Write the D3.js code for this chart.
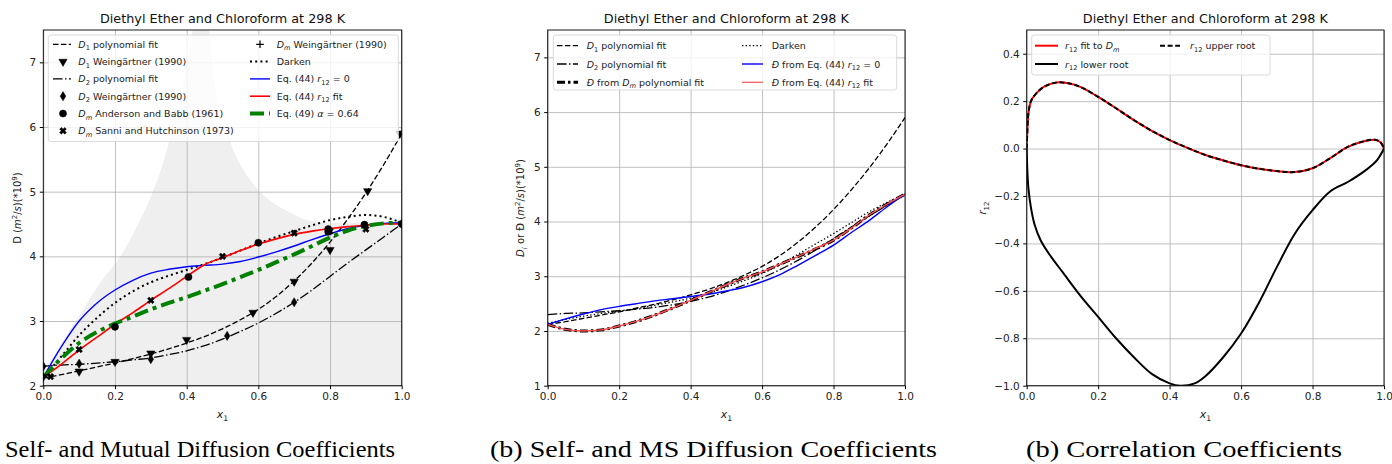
<!DOCTYPE html>
<html>
<head>
<meta charset="utf-8">
<script src="https://cdn.jsdelivr.net/npm/d3@7"></script>
<style>
  body { margin: 0; background: #fff; }
  svg { display: block; font-family: "DejaVu Sans", sans-serif; }
</style>
</head>
<body>
<div class="canvas"></div>
<script>
const svgWidth = 1392;
const svgHeight = 464;

// x grid shared by the fitted curves
const xGrid = [0, 0.05, 0.1, 0.15, 0.2, 0.25, 0.3, 0.35, 0.4, 0.45, 0.5, 0.55, 0.6, 0.65, 0.7, 0.75, 0.8, 0.85, 0.9, 0.95, 1.0];

// panel (a) curves
const d1Fit   = [2.12, 2.17, 2.23, 2.29, 2.35, 2.42, 2.49, 2.57, 2.66, 2.76, 2.88, 3.02, 3.18, 3.38, 3.62, 3.90, 4.22, 4.58, 4.98, 5.42, 5.90];
const d2Fit   = [2.30, 2.32, 2.33, 2.35, 2.37, 2.40, 2.43, 2.48, 2.54, 2.62, 2.72, 2.84, 2.97, 3.12, 3.29, 3.48, 3.69, 3.90, 4.10, 4.30, 4.50];
const darkenA = [2.13, 2.45, 2.78, 3.05, 3.28, 3.46, 3.60, 3.70, 3.79, 3.88, 3.98, 4.09, 4.20, 4.30, 4.39, 4.48, 4.56, 4.61, 4.64, 4.61, 4.52];
const eq44Zero = [2.13, 2.60, 3.00, 3.28, 3.48, 3.63, 3.74, 3.80, 3.84, 3.86, 3.88, 3.92, 3.99, 4.07, 4.16, 4.26, 4.35, 4.43, 4.48, 4.51, 4.52];
const eq44Fit = [2.13, 2.33, 2.55, 2.75, 2.95, 3.13, 3.32, 3.50, 3.69, 3.87, 3.98, 4.09, 4.19, 4.27, 4.34, 4.39, 4.43, 4.46, 4.48, 4.50, 4.50];
const eq49    = [2.13, 2.42, 2.66, 2.83, 2.96, 3.07, 3.18, 3.28, 3.37, 3.47, 3.57, 3.68, 3.79, 3.91, 4.03, 4.16, 4.29, 4.40, 4.47, 4.51, 4.52];

// panel (a) shaded region boundary
const shadeX = [0, 0.05, 0.11, 0.16, 0.214, 0.26, 0.30, 0.34, 0.37, 0.40, 0.42, 0.44, 0.46, 0.48, 0.52, 0.577, 0.62, 0.68, 0.744, 0.8, 0.9, 1.0];
const shadeY = [2.2, 2.65, 3.17, 3.6, 3.99, 4.45, 4.92, 5.55, 6.2, 6.95, 7.6, 8.2, 7.6, 6.6, 5.8, 5.18, 4.92, 4.7, 4.55, 4.52, 4.52, 4.5];

// panel (a) measurements
const d1WeinX = [0.0, 0.1, 0.2, 0.3, 0.4, 0.585, 0.7, 0.8, 0.905, 0.995];
const d1WeinY = [2.14, 2.22, 2.37, 2.50, 2.71, 3.13, 3.61, 4.10, 5.01, 5.90];
const d2WeinX = [0.0, 0.1, 0.3, 0.513, 0.7, 1.0];
const d2WeinY = [2.30, 2.34, 2.41, 2.77, 3.29, 4.50];
const andersonX = [0.2, 0.405, 0.6, 0.795, 0.795, 0.896, 1.0];
const andersonY = [2.91, 3.68, 4.21, 4.42, 4.38, 4.49, 4.50];
const sanniX = [0.02, 0.1, 0.3, 0.5, 0.7, 0.8, 0.9];
const sanniY = [2.14, 2.56, 3.32, 4.00, 4.36, 4.39, 4.42];
const dmWeinX = [0.0, 1.0];
const dmWeinY = [2.14, 4.52];

// panel (b) curves
const darkenB = [2.14, 2.21, 2.27, 2.32, 2.36, 2.41, 2.47, 2.53, 2.60, 2.69, 2.80, 2.92, 3.05, 3.21, 3.40, 3.59, 3.78, 3.98, 4.18, 4.35, 4.50];
const msFromDm = [2.12, 2.03, 2.00, 2.02, 2.09, 2.18, 2.29, 2.42, 2.56, 2.70, 2.84, 2.97, 3.08, 3.22, 3.36, 3.50, 3.66, 3.88, 4.12, 4.32, 4.50];
const msZero  = [2.12, 2.22, 2.31, 2.39, 2.45, 2.50, 2.55, 2.59, 2.63, 2.67, 2.73, 2.80, 2.90, 3.03, 3.20, 3.38, 3.57, 3.80, 4.02, 4.27, 4.50];
const msFit   = [2.12, 2.03, 2.00, 2.02, 2.09, 2.18, 2.29, 2.42, 2.56, 2.70, 2.84, 2.97, 3.08, 3.22, 3.36, 3.51, 3.66, 3.88, 4.12, 4.32, 4.50];

// panel (c) roots
const upperX = [0, 0.002, 0.005, 0.012, 0.028, 0.05, 0.084, 0.12, 0.15, 0.2, 0.25, 0.3, 0.35, 0.4, 0.45, 0.5, 0.55, 0.6, 0.65, 0.7, 0.75, 0.8, 0.85, 0.9, 0.95, 0.975, 0.99, 1.0];
const upperY = [0, 0.08, 0.15, 0.2, 0.235, 0.262, 0.279, 0.274, 0.260, 0.218, 0.17, 0.12, 0.075, 0.036, 0.003, -0.027, -0.05, -0.07, -0.085, -0.095, -0.099, -0.083, -0.04, 0.008, 0.033, 0.037, 0.027, 0.0];
const lowerX = [0, 0.002, 0.005, 0.012, 0.022, 0.04, 0.07, 0.1, 0.15, 0.2, 0.25, 0.3, 0.35, 0.4, 0.43, 0.47, 0.5, 0.55, 0.6, 0.65, 0.7, 0.75, 0.8, 0.85, 0.9, 0.95, 0.98, 1.0];
const lowerY = [0, -0.1, -0.17, -0.25, -0.32, -0.39, -0.46, -0.52, -0.62, -0.71, -0.80, -0.88, -0.95, -0.99, -1.0, -0.99, -0.96, -0.88, -0.78, -0.65, -0.50, -0.36, -0.26, -0.18, -0.14, -0.09, -0.05, 0.0];

const xTicks = [0, 0.2, 0.4, 0.6, 0.8, 1.0];
const titleText = 'Diethyl Ether and Chloroform at 298 K';

const zip = (xs, ys) => xs.map((x, i) => [x, ys[i]]);

const svg = d3.select('.canvas')
    .append('svg')
        .attr('width', svgWidth)
        .attr('height', svgHeight);

// writes text made of plain / italic / sub / sup pieces
const rich = (textSel, parts, size) => {
    let shift = 0;
    parts.forEach(p => {
        const t = textSel.append('tspan').text(p.t);
        let want = 0;
        if (p.sub) want = size * 0.28;
        if (p.sup) want = -size * 0.38;
        if (want !== shift) { t.attr('dy', want - shift); shift = want; }
        if (p.sub || p.sup) t.attr('font-size', size * 0.7);
        if (p.i) t.attr('font-style', 'italic');
    });
};

const makePanel = (id, left, right, yDomain, yTicks, yFmt) => {
    const top = 30, bottom = 385.7;
    const x = d3.scaleLinear().domain([0, 1]).range([left, right]);
    const y = d3.scaleLinear().domain(yDomain).range([bottom, top]);
    const g = svg.append('g');

    g.append('clipPath').attr('id', id)
        .append('rect').attr('x', left).attr('y', top).attr('width', right - left).attr('height', bottom - top);

    // layers: shading, grid, data
    const under = g.append('g').attr('clip-path', `url(#${id})`);
    const gridG = g.append('g');
    const plot = g.append('g').attr('clip-path', `url(#${id})`);

    gridG.append('g')
        .attr('transform', `translate(0, ${bottom})`)
        .call(d3.axisBottom(x).tickValues(xTicks).tickSize(-(bottom - top)).tickFormat(''))
        .call(a => a.select('.domain').remove())
        .call(a => a.selectAll('line').attr('stroke', '#b0b0b0').attr('stroke-width', 0.8));
    gridG.append('g')
        .attr('transform', `translate(${left}, 0)`)
        .call(d3.axisLeft(y).tickValues(yTicks).tickSize(-(right - left)).tickFormat(''))
        .call(a => a.select('.domain').remove())
        .call(a => a.selectAll('line').attr('stroke', '#b0b0b0').attr('stroke-width', 0.8));

    return { x, y, g, under, plot, left, right, top, bottom, yTicks, yFmt };
};

const finishPanel = (p) => {
    const { x, y, g, left, right, top, bottom } = p;
    const xAxis = d3.axisBottom(x).tickValues(xTicks).tickFormat(d3.format('.1f')).tickSize(3.5).tickPadding(3.5);
    const yAxis = d3.axisLeft(y).tickValues(p.yTicks).tickFormat(p.yFmt).tickSize(3.5).tickPadding(3.5);
    g.append('g').attr('transform', `translate(0, ${bottom})`).call(xAxis)
        .call(a => a.select('.domain').remove())
        .call(a => a.selectAll('text').attr('font-size', 10.5).attr('fill', '#222').attr('font-family', '"DejaVu Sans", sans-serif'));
    g.append('g').attr('transform', `translate(${left}, 0)`).call(yAxis)
        .call(a => a.select('.domain').remove())
        .call(a => a.selectAll('text').attr('font-size', 10.5).attr('fill', '#222').attr('font-family', '"DejaVu Sans", sans-serif'));
    g.append('rect').attr('x', left).attr('y', top).attr('width', right - left).attr('height', bottom - top)
        .attr('fill', 'none').attr('stroke', '#000').attr('stroke-width', 0.9);

    g.append('text').attr('x', (left + right) / 2).attr('y', 23).attr('text-anchor', 'middle')
        .attr('font-size', 12.8).attr('fill', '#111').text(titleText);

    const xl = g.append('text').attr('x', (left + right) / 2).attr('y', 418).attr('text-anchor', 'middle')
        .attr('font-size', 11).attr('fill', '#222');
    rich(xl, [{ t: 'x', i: true }, { t: '1', sub: true }], 11);
};

const lineGen = (p, curve) => d3.line().x(d => p.x(d[0])).y(d => p.y(d[1])).curve(curve || d3.curveMonotoneX);

const drawLine = (p, pts, color, width, dash, curve) => {
    p.plot.append('path')
        .attr('d', lineGen(p, curve)(pts))
        .attr('fill', 'none')
        .attr('stroke', color)
        .attr('stroke-width', width)
        .attr('stroke-dasharray', dash || null)
        .attr('stroke-linejoin', 'round');
};

// marker shapes
const markerPath = {
    tri: d3.symbol(d3.symbolTriangle, 30)(),
    circle: d3.symbol(d3.symbolCircle, 40)(),
    diamond: 'M0,-4.6L2.8,0L0,4.6L-2.8,0Z',
    xcross: d3.symbol(d3.symbolCross, 28)(),
    plus: 'M-3.8,0H3.8M0,-3.8V3.8'
};
const markerRot = { tri: 180, circle: 0, diamond: 0, xcross: 45, plus: 0 };

const drawMarkers = (p, xs, ys, kind) => {
    p.plot.selectAll(null).data(zip(xs, ys)).join('path')
        .attr('d', markerPath[kind])
        .attr('transform', d => `translate(${p.x(d[0])}, ${p.y(d[1])}) rotate(${markerRot[kind]})`)
        .attr('fill', kind === 'plus' ? 'none' : '#000')
        .attr('stroke', '#000')
        .attr('stroke-width', kind === 'plus' ? 1.2 : 0.5);
};

const drawLegend = (p, box, items) => {
    const lg = p.g.append('g');
    lg.append('rect').attr('x', box.x).attr('y', box.y).attr('width', box.w).attr('height', box.h)
        .attr('rx', 2.5).attr('fill', 'rgba(255,255,255,0.8)').attr('stroke', '#d6d6d6').attr('stroke-width', 0.9);
    items.forEach(it => {
        const hx = it.hx, hy = it.y;
        if (it.marker) {
            lg.append('path').attr('d', markerPath[it.marker])
                .attr('transform', `translate(${hx + 10}, ${hy}) rotate(${markerRot[it.marker]})`)
                .attr('fill', it.marker === 'plus' ? 'none' : '#000').attr('stroke', '#000')
                .attr('stroke-width', it.marker === 'plus' ? 1.2 : 0.5);
        } else {
            lg.append('line').attr('x1', hx).attr('x2', hx + it.hw).attr('y1', hy).attr('y2', hy)
                .attr('stroke', it.color).attr('stroke-width', it.width).attr('stroke-dasharray', it.dash || null);
        }
        const t = lg.append('text').attr('x', it.tx).attr('y', hy + 3.5).attr('font-size', 9.5).attr('fill', '#222');
        rich(t, it.label, 9.5);
    });
};

// ---------- panel (a)
const pA = makePanel('clipA', 43.3, 401.7, [2, 7.5], [2, 3, 4, 5, 6, 7], d3.format('d'));
pA.under.append('path')
    .attr('d', d3.area().x(d => pA.x(d[0])).y0(pA.bottom).y1(d => pA.y(d[1])).curve(d3.curveMonotoneX)(zip(shadeX, shadeY)))
    .attr('fill', '#efefef');

const dashD = '5.5,2.4';
const dashDot = '9.6,2.4,1.5,2.4';
drawLine(pA, zip(xGrid, d1Fit), '#000', 1.3, dashD);
drawLine(pA, zip(xGrid, d2Fit), '#000', 1.3, dashDot);
drawLine(pA, zip(xGrid, darkenA), '#000', 2, '2,3.2');
drawLine(pA, zip(xGrid, eq44Zero), '#0000ff', 1.4);
drawLine(pA, zip(xGrid, eq44Fit), '#ff0000', 1.6);
drawLine(pA, zip(xGrid, eq49), '#008000', 4, '14,5,4,5');
drawMarkers(pA, d1WeinX, d1WeinY, 'tri');
drawMarkers(pA, d2WeinX, d2WeinY, 'diamond');
drawMarkers(pA, andersonX, andersonY, 'circle');
drawMarkers(pA, sanniX, sanniY, 'xcross');
drawMarkers(pA, dmWeinX, dmWeinY, 'plus');
finishPanel(pA);
const yLabA = pA.g.append('text').attr('transform', 'translate(21, 208) rotate(-90)')
    .attr('text-anchor', 'middle').attr('font-size', 10).attr('fill', '#222');
rich(yLabA, [{ t: 'D (' }, { t: 'm', i: true }, { t: '2', sup: true }, { t: '/' }, { t: 's', i: true }, { t: ')(*10' }, { t: '9', sup: true }, { t: ')' }], 10);

const rowA = [44.3, 61.6, 78.9, 96.2, 113.5, 130.8];
drawLegend(pA, { x: 48.3, y: 35, w: 350, h: 106.5 }, [
    { hx: 53, hw: 18, y: rowA[0], tx: 78.3, color: '#000', width: 1.3, dash: dashD, label: [{ t: 'D', i: true }, { t: '1', sub: true }, { t: ' polynomial fit' }] },
    { hx: 53, y: rowA[1], tx: 78.3, marker: 'tri', label: [{ t: 'D', i: true }, { t: '1', sub: true }, { t: ' Weingärtner (1990)' }] },
    { hx: 53, hw: 18, y: rowA[2], tx: 78.3, color: '#000', width: 1.3, dash: dashDot, label: [{ t: 'D', i: true }, { t: '2', sub: true }, { t: ' polynomial fit' }] },
    { hx: 53, y: rowA[3], tx: 78.3, marker: 'diamond', label: [{ t: 'D', i: true }, { t: '2', sub: true }, { t: ' Weingärtner (1990)' }] },
    { hx: 53, y: rowA[4], tx: 78.3, marker: 'circle', label: [{ t: 'D', i: true }, { t: 'm', sub: true, i: true }, { t: ' Anderson and Babb (1961)' }] },
    { hx: 53, y: rowA[5], tx: 78.3, marker: 'xcross', label: [{ t: 'D', i: true }, { t: 'm', sub: true, i: true }, { t: ' Sanni and Hutchinson (1973)' }] },
    { hx: 250, y: rowA[0], tx: 276.7, marker: 'plus', label: [{ t: 'D', i: true }, { t: 'm', sub: true, i: true }, { t: ' Weingärtner (1990)' }] },
    { hx: 250, hw: 20, y: rowA[1], tx: 276.7, color: '#000', width: 2, dash: '2,3.2', label: [{ t: 'Darken' }] },
    { hx: 250, hw: 20, y: rowA[2], tx: 276.7, color: '#0000ff', width: 1.4, label: [{ t: 'Eq. (44) ' }, { t: 'r', i: true }, { t: '12', sub: true }, { t: ' = 0' }] },
    { hx: 250, hw: 20, y: rowA[3], tx: 276.7, color: '#ff0000', width: 1.6, label: [{ t: 'Eq. (44) ' }, { t: 'r', i: true }, { t: '12', sub: true }, { t: ' fit' }] },
    { hx: 250, hw: 20, y: rowA[4], tx: 276.7, color: '#008000', width: 4, dash: '14,5,4,5', label: [{ t: 'Eq. (49) ' }, { t: 'α', i: true }, { t: ' = 0.64' }] }
]);

// ---------- panel (b)
const pB = makePanel('clipB', 547.7, 905, [1, 7.5], [1, 2, 3, 4, 5, 6, 7], d3.format('d'));
drawLine(pB, zip(xGrid, d1Fit), '#000', 1.3, dashD);
drawLine(pB, zip(xGrid, d2Fit), '#000', 1.3, dashDot);
drawLine(pB, zip(xGrid, msFromDm), '#000', 3, '8,3,2.5,3');
drawLine(pB, zip(xGrid, darkenB), '#000', 1.3, '1.4,2.2');
drawLine(pB, zip(xGrid, msZero), '#0000ff', 1.4);
drawLine(pB, zip(xGrid, msFit), '#ff4d4d', 1.4);
finishPanel(pB);
const yLabB = pB.g.append('text').attr('transform', 'translate(524, 208) rotate(-90)')
    .attr('text-anchor', 'middle').attr('font-size', 10).attr('fill', '#222');
rich(yLabB, [{ t: 'D', i: true }, { t: 'i', sub: true, i: true }, { t: ' or Đ (' }, { t: 'm', i: true }, { t: '2', sup: true }, { t: '/' }, { t: 's', i: true }, { t: ')(*10' }, { t: '9', sup: true }, { t: ')' }], 10);

const rowB = [45.7, 64, 82.3];
drawLegend(pB, { x: 553.3, y: 35, w: 343.4, h: 55 }, [
    { hx: 557, hw: 21, y: rowB[0], tx: 586.7, color: '#000', width: 1.3, dash: dashD, label: [{ t: 'D', i: true }, { t: '1', sub: true }, { t: ' polynomial fit' }] },
    { hx: 557, hw: 21, y: rowB[1], tx: 586.7, color: '#000', width: 1.3, dash: dashDot, label: [{ t: 'D', i: true }, { t: '2', sub: true }, { t: ' polynomial fit' }] },
    { hx: 557, hw: 21, y: rowB[2], tx: 586.7, color: '#000', width: 3, dash: '8,3,2.5,3', label: [{ t: 'Đ', i: true }, { t: ' from ' }, { t: 'D', i: true }, { t: 'm', sub: true, i: true }, { t: ' polynomial fit' }] },
    { hx: 742, hw: 21, y: rowB[0], tx: 771.7, color: '#000', width: 1.3, dash: '1.4,2.2', label: [{ t: 'Darken' }] },
    { hx: 742, hw: 21, y: rowB[1], tx: 771.7, color: '#0000ff', width: 1.4, label: [{ t: 'Đ', i: true }, { t: ' from Eq. (44) ' }, { t: 'r', i: true }, { t: '12', sub: true }, { t: ' = 0' }] },
    { hx: 742, hw: 21, y: rowB[2], tx: 771.7, color: '#ff6b6b', width: 1.4, label: [{ t: 'Đ', i: true }, { t: ' from Eq. (44) ' }, { t: 'r', i: true }, { t: '12', sub: true }, { t: ' fit' }] }
]);

// ---------- panel (c)
const pC = makePanel('clipC', 1026.7, 1384, [-1, 0.5], [-1, -0.8, -0.6, -0.4, -0.2, 0, 0.2, 0.4], d3.format('.1f'));
drawLine(pC, zip(upperX, upperY), '#ff0000', 2, null, d3.curveCatmullRom);
drawLine(pC, zip(upperX, upperY), '#000', 2, '5,2.6', d3.curveCatmullRom);
drawLine(pC, zip(lowerX, lowerY), '#000', 2, null, d3.curveCatmullRom);
finishPanel(pC);
const yLabC = pC.g.append('text').attr('transform', 'translate(986, 208) rotate(-90)')
    .attr('text-anchor', 'middle').attr('font-size', 10).attr('fill', '#222');
rich(yLabC, [{ t: 'r', i: true }, { t: '12', sub: true }], 10);

const rowC = [45.7, 64];
drawLegend(pC, { x: 1031.7, y: 35, w: 238.3, h: 40 }, [
    { hx: 1035, hw: 23, y: rowC[0], tx: 1065, color: '#ff0000', width: 2, label: [{ t: 'r', i: true }, { t: '12', sub: true }, { t: ' fit to ' }, { t: 'D', i: true }, { t: 'm', sub: true, i: true }] },
    { hx: 1035, hw: 23, y: rowC[1], tx: 1065, color: '#000', width: 2, label: [{ t: 'r', i: true }, { t: '12', sub: true }, { t: ' lower root' }] },
    { hx: 1160, hw: 20, y: rowC[0], tx: 1190, color: '#000', width: 2, dash: '5,2.6', label: [{ t: 'r', i: true }, { t: '12', sub: true }, { t: ' upper root' }] }
]);

// ---------- captions
const captions = [
    { text: 'Self- and Mutual Diffusion Coefficients', x: 5, w: 390 },
    { text: '(b) Self- and MS Diffusion Coefficients', x: 490, w: 447 },
    { text: '(b) Correlation Coefficients', x: 1026, w: 316 }
];
svg.selectAll('.caption').data(captions).join('text')
    .attr('class', 'caption')
    .attr('x', d => d.x).attr('y', 457)
    .attr('font-family', '"Liberation Serif", "DejaVu Serif", serif')
    .attr('font-size', 23)
    .attr('fill', '#000')
    .attr('textLength', d => d.w)
    .attr('lengthAdjust', 'spacingAndGlyphs')
    .text(d => d.text);
</script>
</body>
</html>
